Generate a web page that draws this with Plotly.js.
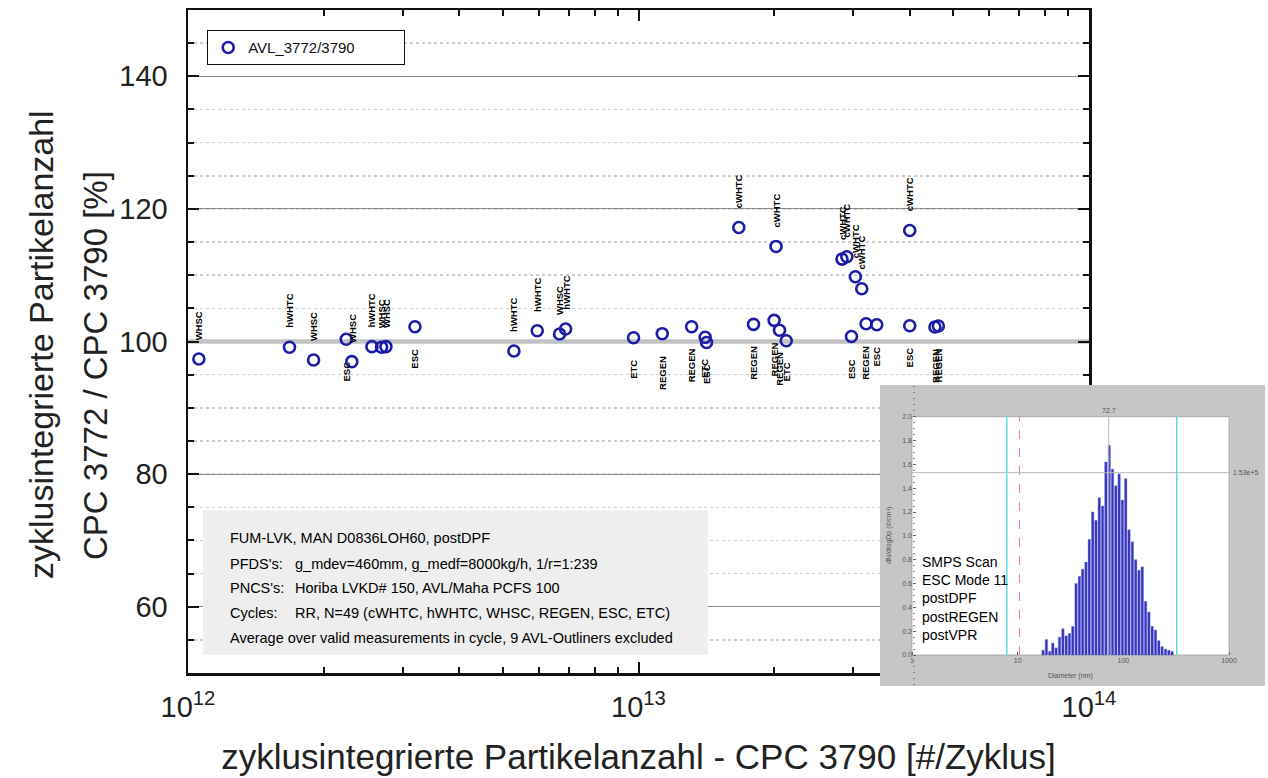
<!DOCTYPE html>
<html>
<head>
<meta charset="utf-8">
<script src="https://cdn.plot.ly/plotly-3.0.1.min.js"></script>
<style>
  html, body { margin: 0; padding: 0; background: #ffffff; }
  #chart { width: 1268px; height: 778px; }
</style>
</head>
<body>
<div id="chart"></div>
<script>
// Cycle-integrated particle number (CPC 3790) and ratio AVL 3772 / CPC 3790 per cycle
const cpc3790Count = [
  1.057e12, 1.68e12, 1.90e12, 2.245e12, 2.31e12, 2.56e12, 2.69e12, 2.75e12, 3.19e12,
  5.29e12, 5.96e12, 6.68e12, 6.89e12,
  9.75e12, 1.129e13, 1.312e13, 1.406e13, 1.416e13,
  1.67e13, 1.80e13, 2.02e13, 2.00e13, 2.056e13, 2.128e13,
  2.83e13, 2.90e13, 3.03e13, 3.13e13, 2.97e13, 3.20e13, 3.38e13,
  4.00e13, 4.00e13, 4.55e13, 4.63e13
];
const ratioPct = [
  97.36, 99.13, 97.21, 100.33, 96.96, 99.22, 99.13, 99.22, 102.23,
  98.57, 101.63, 101.13, 101.88,
  100.57, 101.18, 102.23, 100.63, 99.85,
  117.2, 102.59, 114.34, 103.19, 101.69, 100.12,
  112.43, 112.78, 109.76, 107.95, 100.75, 102.67, 102.53,
  116.75, 102.38, 102.18, 102.33
];
const cycleName = [
  'WHSC', 'hWHTC', 'WHSC', 'ESC', 'WHSC', 'hWHTC', 'WHSC', 'WHSC', 'ESC',
  'hWHTC', 'hWHTC', 'WHSC', 'hWHTC',
  'ETC', 'REGEN', 'REGEN', 'ETC', 'ESC',
  'cWHTC', 'REGEN', 'cWHTC', 'REGEN', 'REGEN', 'ETC',
  'cWHTC', 'cWHTC', 'cWHTC', 'cWHTC', 'ESC', 'REGEN', 'ESC',
  'cWHTC', 'ESC', 'REGEN', 'REGEN'
];
const seriesName = 'AVL_3772/3790';
const referencePct = 100;

// Axis ticks
const xDecades = [1e12, 1e13, 1e14];
const xDecadeText = ['10<sup>12</sup>', '10<sup>13</sup>', '10<sup>14</sup>'];
const yTickVals = [60, 80, 100, 120, 140];

// Info box
const infoLines = [
  ['FUM-LVK, MAN D0836LOH60, postDPF', ''],
  ["PFDS's:", 'g_mdev=460mm, g_medf=8000kg/h, 1/r=1:239'],
  ["PNCS's:", 'Horiba LVKD# 150, AVL/Maha PCFS 100'],
  ['Cycles:', 'RR, N=49 (cWHTC, hWHTC, WHSC, REGEN, ESC, ETC)'],
  ['Average over valid measurements in cycle, 9 AVL-Outliners excluded', '']
];

// SMPS scan shown in the inset
const smpsDiameterNm = [
  17.4, 18.7, 20.1, 21.5, 23.1, 24.9, 26.8, 28.8, 30.9, 33.2,
  35.7, 38.4, 41.2, 44.3, 47.6, 51.3, 55.1, 59.2, 63.6, 68.4,
  73.5, 79.0, 84.9, 91.2, 98.0, 105.3, 113.1, 121.8, 130.9, 140.7,
  151.1, 162.4, 174.5, 187.6, 201.5, 216.6, 232.7, 250.6, 269.3, 289.3
];
const smpsDnDlogDp = [
  0.04, 0.13, 0.03, 0.10, 0.06, 0.15, 0.22, 0.16, 0.18, 0.24,
  0.60, 0.66, 0.72, 0.78, 0.97, 1.20, 1.13, 1.32, 1.25, 1.62,
  1.76, 1.56, 1.42, 1.52, 1.30, 1.48, 1.05, 0.95, 0.80, 0.71,
  0.74, 0.45, 0.36, 0.24, 0.21, 0.12, 0.07, 0.05, 0.04, 0.03
];
const smpsCutNm = [7.9, 320];
const smpsD50Nm = 10.4;
const smpsModeNm = 72.7;
const smpsLevel = 1.53;
const smpsText = ['SMPS Scan', 'ESC Mode 11', 'postDPF', 'postREGEN', 'postVPR'];
const smpsXTicks = [1, 10, 100, 1000];
const smpsYTicks = [0, 0.2, 0.4, 0.6, 0.8, 1.0, 1.2, 1.4, 1.6, 1.8, 2.0];

// ---------- page geometry ----------
const W = 1268, H = 778;
const M = { l: 188, r: 0, t: 10, b: 60 };
const px = x => (x - M.l) / (W - M.l - M.r);
const py = y => (H - M.b - y) / (H - M.t - M.b);

const FONT = '"Liberation Sans", Arial, Helvetica, sans-serif';
const INK = '#111111';

// inset box (outer grey frame and inner plotting area, in page pixels)
const box = { x0: 880, x1: 1265, y0: 385, y1: 686 };
const inner = { x0: 912, x1: 1229, y0: 416.7, y1: 655 };
const pxPerDec = (inner.x1 - inner.x0) / 3;
const pxPerUnit = (inner.y1 - inner.y0) / 2;
const x2Range = [-(inner.x0 - box.x0) / pxPerDec, 3 + (box.x1 - inner.x1) / pxPerDec];
const y2Range = [-(box.y1 - inner.y1) / pxPerUnit, 2 + (inner.y0 - box.y0) / pxPerUnit];

const log10 = v => Math.log10(v);
const minorTicks = [1e12, 1e13].flatMap(d => [2, 3, 4, 5, 6, 7, 8, 9].map(m => m * d));
const mainDomainX = [0, px(1089)];
const mainDomainY = [py(673), 1];

// ---------- traces ----------
const traces = [
  {
    type: 'scatter', mode: 'lines', xaxis: 'x', yaxis: 'y',
    x: [xDecades[0], xDecades[2]], y: [referencePct, referencePct],
    line: { color: '#c2c2c2', width: 4.5 }, showlegend: false, hoverinfo: 'skip'
  },
  {
    type: 'scatter', mode: 'markers', xaxis: 'x', yaxis: 'y',
    name: seriesName, x: cpc3790Count, y: ratioPct,
    marker: { symbol: 'circle-open', size: 11, color: '#1c1ca8', line: { width: 2.6, color: '#1c1ca8' } },
    showlegend: true, hoverinfo: 'skip'
  },
  {
    type: 'bar', xaxis: 'x2', yaxis: 'y2',
    x: smpsDiameterNm.map(log10), y: smpsDnDlogDp,
    marker: { color: '#3434bf', line: { color: '#7070d8', width: 0.4 } },
    showlegend: false, hoverinfo: 'skip'
  },
  {
    type: 'scatter', mode: 'lines', xaxis: 'x2', yaxis: 'y2',
    x: [log10(smpsCutNm[0]), log10(smpsCutNm[0])], y: [0, 2],
    line: { color: '#33d6e0', width: 1.2 }, showlegend: false, hoverinfo: 'skip'
  },
  {
    type: 'scatter', mode: 'lines', xaxis: 'x2', yaxis: 'y2',
    x: [log10(smpsCutNm[1]), log10(smpsCutNm[1])], y: [0, 2],
    line: { color: '#33d6e0', width: 1.2 }, showlegend: false, hoverinfo: 'skip'
  },
  {
    type: 'scatter', mode: 'lines', xaxis: 'x2', yaxis: 'y2',
    x: [log10(smpsD50Nm), log10(smpsD50Nm)], y: [0, 2],
    line: { color: '#f08080', width: 1, dash: 'dash' }, showlegend: false, hoverinfo: 'skip'
  },
  {
    type: 'scatter', mode: 'lines', xaxis: 'x2', yaxis: 'y2',
    x: [log10(smpsModeNm), log10(smpsModeNm)], y: [0, 2],
    line: { color: '#b8b8b8', width: 1 }, showlegend: false, hoverinfo: 'skip'
  },
  {
    type: 'scatter', mode: 'lines', xaxis: 'x2', yaxis: 'y2',
    x: [0, 3], y: [smpsLevel, smpsLevel],
    line: { color: '#b8b8b8', width: 1 }, showlegend: false, hoverinfo: 'skip'
  },
  // carrier for the minor tick marks of the log axis
  {
    type: 'scatter', mode: 'markers', xaxis: 'x3', yaxis: 'y',
    x: [xDecades[0]], y: [referencePct], marker: { size: 0.1, opacity: 0 },
    showlegend: false, hoverinfo: 'skip'
  }
];

// ---------- annotations ----------
const ABOVE = new Set(['cWHTC', 'hWHTC', 'WHSC']);
const annotations = cpc3790Count.map((x, i) => {
  const up = ABOVE.has(cycleName[i]);
  return {
    xref: 'x', yref: 'y', x: log10(x), y: ratioPct[i],
    text: '<b>' + cycleName[i] + '</b>', showarrow: false, textangle: -90,
    xanchor: 'center', yanchor: up ? 'bottom' : 'top', yshift: up ? 17 : -20,
    font: { family: FONT, size: 9.5, color: '#000' }
  };
});

// y axis title (two lines)
annotations.push({
  xref: 'paper', yref: 'paper', x: px(41), y: py(345), text: 'zyklusintegrierte Partikelanzahl',
  showarrow: false, textangle: -90, xanchor: 'center', yanchor: 'middle',
  font: { family: FONT, size: 34, color: '#222' }
});
annotations.push({
  xref: 'paper', yref: 'paper', x: px(96), y: py(366), text: 'CPC 3772 / CPC 3790 [%]',
  showarrow: false, textangle: -90, xanchor: 'center', yanchor: 'middle',
  font: { family: FONT, size: 33, color: '#222' }
});

// info box text
const infoY = [538, 564, 588, 613, 638];
infoLines.forEach((ln, i) => {
  annotations.push({
    xref: 'paper', yref: 'paper', x: px(228), y: py(infoY[i]), text: ln[0],
    showarrow: false, xanchor: 'left', yanchor: 'middle',
    font: { family: FONT, size: 14.5, color: '#000' }
  });
  if (ln[1]) {
    annotations.push({
      xref: 'paper', yref: 'paper', x: px(293), y: py(infoY[i]), text: ln[1],
      showarrow: false, xanchor: 'left', yanchor: 'middle',
      font: { family: FONT, size: 14.5, color: '#000' }
    });
  }
});

// inset texts
annotations.push({
  xref: 'x2', yref: 'y2', x: 0.08, y: 0.085, text: smpsText.join('<br>'),
  showarrow: false, xanchor: 'left', yanchor: 'bottom', align: 'left',
  font: { family: FONT, size: 14, color: '#000' }
});
annotations.push({
  xref: 'x2', yref: 'y2', x: log10(smpsModeNm), y: 2, text: String(smpsModeNm),
  showarrow: false, xanchor: 'center', yanchor: 'bottom', yshift: 1,
  font: { family: FONT, size: 7, color: '#555' }
});
annotations.push({
  xref: 'x2', yref: 'y2', x: 3, y: smpsLevel, text: smpsLevel.toFixed(2) + 'e+5',
  showarrow: false, xanchor: 'left', yanchor: 'middle', xshift: 2,
  font: { family: FONT, size: 7, color: '#555' }
});
annotations.push({
  xref: 'x2', yref: 'y2', x: 1.5, y: 0, text: 'Diameter (nm)',
  showarrow: false, xanchor: 'center', yanchor: 'top', yshift: -15,
  font: { family: FONT, size: 7, color: '#555' }
});
annotations.push({
  xref: 'x2', yref: 'y2', x: 0, y: 1, text: 'dN/dlogDp (#/cm³)',
  showarrow: false, textangle: -90, xanchor: 'right', yanchor: 'middle', xshift: -17,
  font: { family: FONT, size: 7, color: '#555' }
});

// ---------- shapes ----------
const shapes = [
  // info box background
  {
    type: 'rect', xref: 'paper', yref: 'paper', layer: 'above',
    x0: px(203), x1: px(708), y0: py(655), y1: py(510),
    fillcolor: '#eeeeee', line: { width: 0 }
  },
  // inset frame and plotting area
  {
    type: 'rect', xref: 'x2', yref: 'y2', layer: 'below',
    x0: x2Range[0], x1: x2Range[1], y0: y2Range[0], y1: y2Range[1],
    fillcolor: '#c6c6c6', line: { width: 0 }
  },
  {
    type: 'rect', xref: 'x2', yref: 'y2', layer: 'below',
    x0: 0, x1: 3, y0: 0, y1: 2,
    fillcolor: '#ffffff', line: { width: 0.6, color: '#8a8a8a' }
  }
];

// ---------- layout ----------
const layout = {
  width: W, height: H,
  margin: M,
  paper_bgcolor: '#ffffff', plot_bgcolor: 'rgba(0,0,0,0)',
  font: { family: FONT, color: '#222' },
  showlegend: true,
  legend: {
    x: px(207), y: py(30), xanchor: 'left', yanchor: 'top',
    orientation: 'h', entrywidth: 150,
    bgcolor: '#ffffff', bordercolor: '#111', borderwidth: 1.2,
    font: { family: FONT, size: 15, color: '#111' }
  },
  xaxis: {
    type: 'log', range: [12, 14], domain: mainDomainX, anchor: 'y',
    tickmode: 'array', tickvals: xDecades, ticktext: xDecadeText,
    ticks: 'inside', ticklen: 11, tickwidth: 2, tickcolor: INK,
    showline: true, linecolor: INK, linewidth: 2.5, mirror: 'ticks',
    showgrid: false, zeroline: false,
    tickfont: { family: FONT, size: 29, color: '#222' }, ticklabelstandoff: 7,
    title: { text: 'zyklusintegrierte Partikelanzahl - CPC 3790 [#/Zyklus]', font: { family: FONT, size: 35, color: '#222' }, standoff: 22 }
  },
  xaxis3: {
    type: 'log', range: [12, 14], domain: mainDomainX, overlaying: 'x', anchor: 'y', side: 'bottom',
    tickmode: 'array', tickvals: minorTicks, showticklabels: false,
    ticks: 'inside', ticklen: 6, tickwidth: 2, tickcolor: INK,
    showline: false, mirror: 'ticks', showgrid: false, zeroline: false
  },
  yaxis: {
    range: [50, 150], domain: mainDomainY, anchor: 'x',
    tickmode: 'array', tickvals: yTickVals,
    ticks: 'inside', ticklen: 11, tickwidth: 2, tickcolor: INK,
    showline: true, linecolor: INK, linewidth: 2.5, mirror: 'ticks',
    showgrid: true, gridcolor: '#8c8c8c', gridwidth: 1, zeroline: false,
    tickfont: { family: FONT, size: 29, color: '#222' }, ticklabelstandoff: 12,
    minor: { dtick: 5, tick0: 0, ticks: 'inside', ticklen: 6, tickwidth: 2, tickcolor: INK, showgrid: true, gridcolor: '#cdcdcd', griddash: 'dot', gridwidth: 1.5 }
  },
  xaxis2: {
    range: x2Range, domain: [px(box.x0), px(box.x1)], anchor: 'free', position: py(inner.y1),
    tickmode: 'array', tickvals: smpsXTicks.map(log10), ticktext: smpsXTicks.map(String),
    ticks: 'inside', ticklen: 3, tickcolor: '#666', showline: false, showgrid: false, zeroline: false,
    tickfont: { family: FONT, size: 7, color: '#555' }, fixedrange: true
  },
  yaxis2: {
    range: y2Range, domain: [py(box.y1), py(box.y0)], anchor: 'free', position: px(inner.x0),
    tickmode: 'array', tickvals: smpsYTicks, tickformat: '.1f',
    ticks: 'inside', ticklen: 3, tickcolor: '#666', showline: false, showgrid: false, zeroline: false,
    tickfont: { family: FONT, size: 7, color: '#555' }, fixedrange: true,
    minor: { dtick: 0.05, ticks: 'inside', ticklen: 1.5, tickcolor: '#888', showgrid: false }
  },
  bargap: 0.22,
  shapes: shapes,
  annotations: annotations
};

Plotly.newPlot('chart', traces, layout, { displayModeBar: false, staticPlot: true });
</script>
</body>
</html>
